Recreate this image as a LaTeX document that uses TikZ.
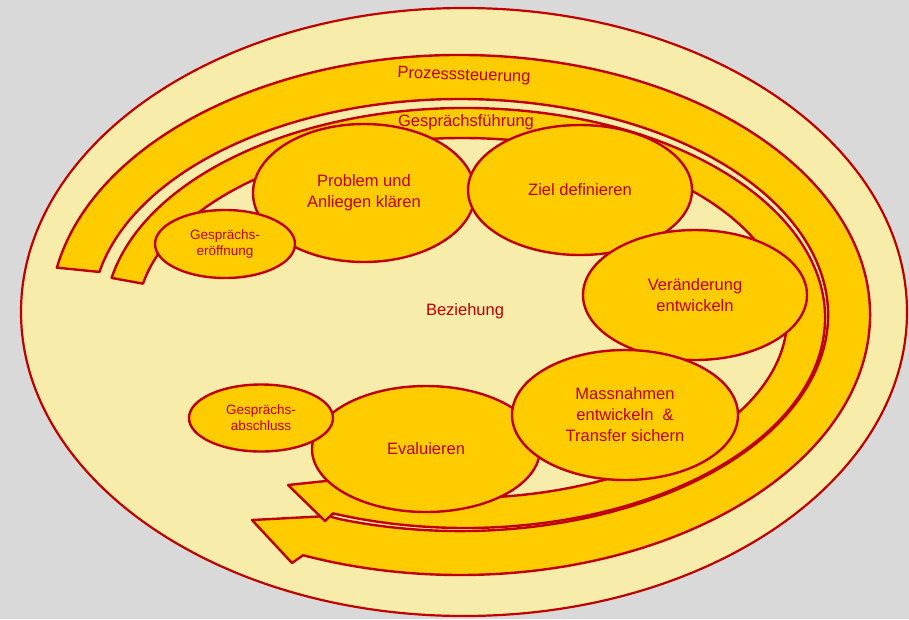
\documentclass[tikz,border=0pt]{standalone}
\usepackage{fontspec}
\setmainfont{Liberation Sans}
\usetikzlibrary{shapes.geometric,calc}
\definecolor{bgGray}{HTML}{D9D9D9}
\definecolor{paleGold}{HTML}{F7ECAA}
\definecolor{gold}{HTML}{FFCC00}
\definecolor{darkRed}{HTML}{C00000}

\begin{document}
\begin{tikzpicture}[x=1pt, y=-1pt, line join=round,
  band/.style={fill=gold, draw=darkRed, line width=2.4pt},
  phase/.style={ellipse, fill=gold, draw=darkRed, line width=2.4pt,
    inner sep=0pt, text=darkRed, align=center,
    font=\fontsize{16.5}{21}\selectfont},
  smallphase/.style={phase, font=\fontsize{13.5}{16}\selectfont},
  bandtext/.style={text=darkRed, inner sep=0pt,
    font=\fontsize{16.5}{20}\selectfont}]

% canvas
\fill[bgGray] (0,0) rectangle (909,619);
\useasboundingbox (0,0) rectangle (909,619);

% relationship ground
\draw[fill=paleGold, draw=darkRed, line width=2.2pt]
  (464,312) ellipse [x radius=443pt, y radius=304pt];

% centres of the two circular arrows
\coordinate (cP)  at (460,315);
\coordinate (cGo) at (465,318);
\coordinate (cGi) at (462,318);

% outer arrow: process control
\draw[band]
  ($(cP)+(169.5:410pt and 260pt)$)
    arc[start angle=169.5, end angle=-112.5, x radius=410pt, y radius=260pt]
  -- (292,563) -- (252,520) -- (328,516)
  -- ($(cP)+(-109:368pt and 216pt)$)
    arc[start angle=-109, end angle=168.5, x radius=368pt, y radius=216pt]
  -- cycle;

% inner arrow: conversation management
\draw[band]
  ($(cGo)+(169:360pt and 210pt)$)
    arc[start angle=169, end angle=-111.5, x radius=360pt, y radius=210pt]
  -- (325,521) -- (288,485) -- (345,479)
  -- ($(cGi)+(-110:325pt and 180pt)$)
    arc[start angle=-110, end angle=169, x radius=325pt, y radius=180pt]
  -- cycle;

% band and ground labels
\node[bandtext, rotate=-2] (prozess) at (464,76) {Prozesssteuerung};
\node[bandtext] (fuehrung) at (466,122) {Gesprächsführung};
\node[bandtext] (beziehung) at (465,311) {Beziehung};

% conversation phases
\node[phase, minimum width=222pt, minimum height=138pt] (klaeren) at (364,193)
  {Problem und\\Anliegen klären};
\node[smallphase, minimum width=140pt, minimum height=68pt] (eroeffnung) at (225,244)
  {Gesprächs-\\eröffnung};
\node[phase, minimum width=224pt, minimum height=130pt] (ziel) at (580,190)
  {Ziel definieren};
\node[phase, minimum width=224pt, minimum height=130pt] (veraenderung) at (695,295)
  {Veränderung\\entwickeln};
\node[phase, minimum width=228pt, minimum height=126pt] (evaluieren) at (426,449)
  {Evaluieren};
\node[smallphase, minimum width=144pt, minimum height=67pt] (abschluss) at (261,418)
  {Gesprächs-\\abschluss};
\node[phase, minimum width=226pt, minimum height=130pt] (massnahmen) at (625,415)
  {Massnahmen\\entwickeln~\ \&\\Transfer sichern};

\end{tikzpicture}
\end{document}
